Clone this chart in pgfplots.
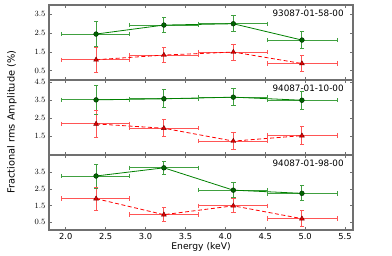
\documentclass[border=0pt]{standalone}
\usepackage{pgfplots}
\pgfplotsset{compat=1.18}
\usepackage{fontspec}
\setmainfont{DejaVu Sans}
\definecolor{gline}{HTML}{008000}
\definecolor{gerr}{HTML}{40A040}
\definecolor{gmark}{HTML}{006400}
\definecolor{rline}{HTML}{FF0000}
\definecolor{rerr}{HTML}{FF5555}
\definecolor{rmark}{HTML}{E00000}
\definecolor{axgray}{HTML}{707070}

\pgfplotsset{
  panel/.style={
    scale only axis, width=304pt, height=75pt,
    xmin=1.79, xmax=5.6,
    xtick={2.0,2.5,...,5.5},
    tick align=inside, major tick length=3pt,
    every tick/.style={axgray, line width=0.6pt},
    axis line style={axgray, line width=1.2pt},
    xticklabels={},
    yticklabel style={font=\fontsize{8.3}{9}\selectfont,
      /pgf/number format/fixed, /pgf/number format/fixed zerofill,
      /pgf/number format/precision=1},
    unbounded coords=jump,
    clip=false,
  },
  vbar/.style={#1, line width=0.9pt, mark=-, mark size=2.2pt, mark options={solid, #1}, forget plot},
  hbar/.style={#1, line width=0.9pt, mark=|, mark size=2.2pt, mark options={solid, #1}, forget plot},
  gser/.style={gline, line width=0.8pt, solid, mark=*, mark size=2.4pt,
    mark options={fill=gmark, draw=black!60!gmark, line width=0.4pt}},
  rser/.style={rline, line width=0.8pt, dash pattern=on 4pt off 2.5pt, mark=triangle*, mark size=2.8pt,
    mark options={solid, fill=rmark, draw=black!50!rmark, line width=0.4pt}},
}

\begin{document}
\begin{tikzpicture}[x=1pt,y=1pt]
\path[use as bounding box] (0,0) rectangle (392,-256);

% ---------------- panel 1
\begin{axis}[panel, at={(49pt,-5pt)}, anchor=north west,
  ymin=0, ymax=4.0, ytick={0.5,1.5,2.5,3.5}]
\addplot[hbar=gerr] coordinates {(1.95,2.45) (2.80,2.45) (nan,nan) (2.80,2.93) (3.66,2.93) (nan,nan) (3.66,3.00) (4.53,3.00) (nan,nan) (4.53,2.13) (5.40,2.13)};
\addplot[vbar=gerr] coordinates {(2.38,1.78) (2.38,3.12) (nan,nan) (3.23,2.51) (3.23,3.35) (nan,nan) (4.10,2.57) (4.10,3.43) (nan,nan) (4.96,1.69) (4.96,2.57)};
\addplot[hbar=rerr] coordinates {(1.95,1.08) (2.80,1.08) (nan,nan) (2.80,1.33) (3.66,1.33) (nan,nan) (3.66,1.49) (4.53,1.49) (nan,nan) (4.53,0.88) (5.40,0.88)};
\addplot[vbar=rerr] coordinates {(2.38,0.41) (2.38,1.75) (nan,nan) (3.23,0.91) (3.23,1.75) (nan,nan) (4.10,1.06) (4.10,1.92) (nan,nan) (4.96,0.44) (4.96,1.32)};
\addplot[gser] coordinates {(2.38,2.45) (3.23,2.93) (4.10,3.00) (4.96,2.13)};
\addplot[rser] coordinates {(2.38,1.08) (3.23,1.33) (4.10,1.49) (4.96,0.88)};
\node[anchor=north east, font=\fontsize{8.8}{10}\selectfont, inner sep=0pt]
  at (rel axis cs:0.97,0.93) {93087-01-58-00};
\end{axis}

% ---------------- panel 2
\begin{axis}[panel, at={(49pt,-80pt)}, anchor=north west,
  ymin=0.45, ymax=4.6, ytick={1.5,2.5,3.5,4.5}]
\addplot[hbar=gerr] coordinates {(1.95,3.50) (2.80,3.50) (nan,nan) (2.80,3.56) (3.66,3.56) (nan,nan) (3.66,3.65) (4.53,3.65) (nan,nan) (4.53,3.48) (5.40,3.48)};
\addplot[vbar=gerr] coordinates {(2.38,2.72) (2.38,4.28) (nan,nan) (3.23,3.06) (3.23,4.06) (nan,nan) (4.10,3.19) (4.10,4.11) (nan,nan) (4.96,2.98) (4.96,3.98)};
\addplot[hbar=rerr] coordinates {(1.95,2.17) (2.80,2.17) (nan,nan) (2.80,1.93) (3.66,1.93) (nan,nan) (3.66,1.22) (4.53,1.22) (nan,nan) (4.53,1.52) (5.40,1.52)};
\addplot[vbar=rerr] coordinates {(2.38,1.42) (2.38,2.92) (nan,nan) (3.23,1.46) (3.23,2.40) (nan,nan) (4.10,0.77) (4.10,1.67) (nan,nan) (4.96,1.03) (4.96,2.01)};
\addplot[gser] coordinates {(2.38,3.50) (3.23,3.56) (4.10,3.65) (4.96,3.48)};
\addplot[rser] coordinates {(2.38,2.17) (3.23,1.93) (4.10,1.22) (4.96,1.52)};
\node[anchor=north east, font=\fontsize{8.8}{10}\selectfont, inner sep=0pt]
  at (rel axis cs:0.97,0.93) {94087-01-10-00};
\end{axis}

% ---------------- panel 3
\begin{axis}[panel, at={(49pt,-155pt)}, anchor=north west,
  ymin=0.04, ymax=4.54, ytick={0.5,1.5,2.5,3.5},
  xticklabels={2.0,2.5,3.0,3.5,4.0,4.5,5.0,5.5},
  xticklabel style={font=\fontsize{8.3}{9}\selectfont},
  xlabel={Energy (keV)},
  xlabel style={font=\fontsize{9.2}{10}\selectfont, yshift=4pt}]
\addplot[hbar=gerr] coordinates {(1.95,3.28) (2.80,3.28) (nan,nan) (2.80,3.77) (3.66,3.77) (nan,nan) (3.66,2.43) (4.53,2.43) (nan,nan) (4.53,2.24) (5.40,2.24)};
\addplot[vbar=gerr] coordinates {(2.38,2.56) (2.38,4.00) (nan,nan) (3.23,3.36) (3.23,4.18) (nan,nan) (4.10,1.98) (4.10,2.88) (nan,nan) (4.96,1.79) (4.96,2.69)};
\addplot[hbar=rerr] coordinates {(1.95,1.92) (2.80,1.92) (nan,nan) (2.80,0.96) (3.66,0.96) (nan,nan) (3.66,1.49) (4.53,1.49) (nan,nan) (4.53,0.72) (5.40,0.72)};
\addplot[vbar=rerr] coordinates {(2.38,1.22) (2.38,2.62) (nan,nan) (3.23,0.55) (3.23,1.37) (nan,nan) (4.10,1.07) (4.10,1.91) (nan,nan) (4.96,0.23) (4.96,1.21)};
\addplot[gser] coordinates {(2.38,3.28) (3.23,3.77) (4.10,2.43) (4.96,2.24)};
\addplot[rser] coordinates {(2.38,1.92) (3.23,0.96) (4.10,1.49) (4.96,0.72)};
\node[anchor=north east, font=\fontsize{8.8}{10}\selectfont, inner sep=0pt]
  at (rel axis cs:0.97,0.93) {94087-01-98-00};
\end{axis}

\node[rotate=90, font=\fontsize{9.8}{11}\selectfont] at (12,-122) {Fractional rms Amplitude (\%)};
\end{tikzpicture}
\end{document}
